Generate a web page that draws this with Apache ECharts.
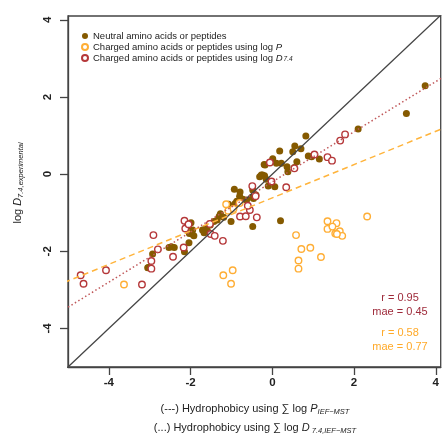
<!DOCTYPE html>
<html>
<head>
<meta charset="utf-8">
<script src="https://cdn.jsdelivr.net/npm/echarts@6/dist/echarts.min.js"></script>
<style>
  html, body { margin: 0; padding: 0; background: #fff; }
  #main { width: 442px; height: 434px; }
</style>
</head>
<body>
<div id="main"></div>
<script>
// 数据
var xTicks = [-4, -2, 0, 2, 4];
var yTicks = [-4, -2, 0, 2, 4];

var neutral = [
    [3.74, 2.29], [3.28, 1.57], [2.10, 1.17], [0.82, 0.99], [0.55, 0.73], [0.70, 0.66],
    [0.50, 0.58], [0.18, 0.60], [0.01, 0.40], [-0.20, 0.25], [0.10, 0.28], [0.22, 0.28],
    [0.36, 0.19], [0.60, 0.32], [0.88, 0.47], [0.96, 0.45], [1.15, 0.39], [0.38, 0.06],
    [-0.24, -0.02], [-0.31, -0.07], [-0.19, -0.04], [-0.10, -0.31], [0.06, -0.33], [-0.15, -0.13],
    [-0.93, -0.39], [-0.79, -0.46], [-0.48, -0.41], [-0.40, -0.54], [-0.46, -0.63], [-0.87, -0.70],
    [-0.72, -0.65], [-0.63, -0.67], [-0.99, -0.84], [-1.01, -1.23], [-0.48, -1.36], [0.20, -1.21],
    [-0.18, 0.24], [-0.27, -0.02], [0.54, 0.17], [-0.80, -0.57], [-0.50, -0.60], [-1.07, -0.78],
    [-0.91, -0.76], [-1.27, -1.03], [-1.35, -1.19], [-1.43, -1.23], [-1.63, -1.41], [-1.71, -1.45],
    [-1.59, -1.47], [-1.19, -1.12], [-1.30, -1.09], [-1.52, -1.32], [-1.67, -1.52], [-2.03, -1.54],
    [-1.97, -1.55], [-2.08, -1.35], [-1.99, -1.26], [-1.95, -1.45], [-1.92, -1.60], [-2.04, -1.78],
    [-2.47, -1.88], [-2.40, -1.90], [-2.53, -1.90], [-2.15, -2.01], [-2.93, -2.07], [-3.03, -2.42],
    [-3.05, -2.43]
];
var chargedLogP = [
    [2.32, -1.10], [1.35, -1.22], [1.57, -1.27], [1.35, -1.42], [1.47, -1.36], [1.65, -1.48],
    [1.54, -1.54], [1.71, -1.60], [1.58, -1.55], [0.58, -1.58], [0.71, -1.94], [0.93, -1.91],
    [1.19, -2.15], [0.64, -2.24], [0.64, -2.45], [-0.97, -2.49], [-1.01, -2.84], [-1.20, -2.62],
    [-3.63, -2.86], [-1.13, -0.78], [-1.08, -0.95], [-0.95, -0.90], [-0.80, -0.75]
];
var chargedLogD = [
    [-4.69, -2.62], [-4.62, -2.84], [-4.07, -2.49], [-3.19, -2.86], [-2.91, -1.58], [-2.80, -1.95],
    [-2.96, -2.25], [-2.96, -2.45], [-2.43, -2.14], [-2.15, -1.21], [-2.13, -1.41], [-2.05, -1.30],
    [-2.17, -1.90], [-1.53, -1.29], [-1.51, -1.55], [-1.41, -1.60], [-1.21, -1.73], [-0.49, -0.31],
    [-0.79, -1.10], [-0.65, -1.09], [-0.55, -0.93], [-0.60, -0.82], [-0.38, -1.12], [-0.06, 0.30],
    [-0.02, -0.19], [0.34, -0.34], [1.03, 0.51], [1.35, 0.44], [1.46, 0.35], [1.66, 0.87],
    [1.78, 1.03], [0.54, 0.15], [-0.41, -0.57]
];
// 回归线 [斜率, 截距]
var fitLogP = [0.431, -0.614];
var fitLogD = [0.65, -0.2];
var stats = [['r = 0.95', 'mae = 0.45'], ['r = 0.58', 'mae = 0.77']];

var fontFam = '"Liberation Sans", Arial, sans-serif';
var cBrown = '#855a00', cOrange = '#ffae35', cRed = '#b5383a';

function fitLine(f) {
    return [[-6, f[0] * -6 + f[1]], [6, f[0] * 6 + f[1]]];
}

var myChart = echarts.init(document.getElementById('main'), null, { renderer: 'canvas' });
var subRich = {
    i: { fontStyle: 'italic', fontSize: 9.5, fontFamily: fontFam, color: '#222' },
    s: { fontStyle: 'italic', fontSize: 6.5, fontFamily: fontFam, color: '#222', verticalAlign: 'bottom', padding: [4, 0, 0, 1] }
};
var option = {
    animation: false,
    grid: {
        left: 68, top: 16, right: -5, bottom: 67,
        show: true, borderColor: '#444', borderWidth: 1.3, backgroundColor: 'transparent'
    },
    legend: {
        orient: 'vertical',
        left: 76, top: 26,
        itemWidth: 6, itemHeight: 6, itemGap: 1,
        textStyle: { fontSize: 9.5, fontFamily: fontFam, color: '#222', lineHeight: 10, rich: subRich },
        data: ['Neutral amino acids or peptides', 'Charged amino acids or peptides using log P', 'Charged amino acids or peptides using log D'],
        formatter: function (name) {
            if (name.slice(-5) === 'log P') return name.slice(0, -1) + '{i|P}';
            if (name.slice(-5) === 'log D') return name.slice(0, -1) + '{i|D}{s|7.4}';
            return name;
        }
    },
    xAxis: {
        type: 'value', min: -5, max: 4.12,
        splitLine: { show: false },
        axisLine: { onZero: false, lineStyle: { color: '#444', width: 1.3 } },
        axisTick: { customValues: xTicks, length: 8, lineStyle: { color: '#444', width: 1.3 } },
        axisLabel: { customValues: xTicks, margin: 10, fontSize: 11.5, fontWeight: 'bold', color: '#222', fontFamily: fontFam }
    },
    yAxis: {
        type: 'value', min: -5, max: 4.1,
        splitLine: { show: false },
        axisLine: { onZero: false, lineStyle: { color: '#444', width: 1.3 } },
        axisTick: { customValues: yTicks, length: 8, lineStyle: { color: '#444', width: 1.3 } },
        axisLabel: { customValues: yTicks, rotate: 90, margin: 14, fontSize: 11.5, fontWeight: 'bold', color: '#222', fontFamily: fontFam }
    },
    series: [{
        name: 'Neutral amino acids or peptides',
        type: 'scatter', data: neutral, symbolSize: 7,
        itemStyle: { color: cBrown, opacity: 1 }
    }, {
        name: 'Charged amino acids or peptides using log P',
        type: 'scatter', data: chargedLogP, symbolSize: 6.5,
        itemStyle: { color: '#fff', borderColor: cOrange, borderWidth: 1.4, opacity: 1 }
    }, {
        name: 'Charged amino acids or peptides using log D',
        type: 'scatter', data: chargedLogD, symbolSize: 6.5,
        itemStyle: { color: '#fff', borderColor: cRed, borderWidth: 1.4, opacity: 1 }
    }, {
        type: 'line', data: [[-6, -6], [6, 6]], symbol: 'none', silent: true,
        lineStyle: { color: '#444', width: 1.3 }
    }, {
        type: 'line', data: fitLine(fitLogP), symbol: 'none', silent: true,
        lineStyle: { color: '#ffb43c', width: 1.5, type: [6, 4] }
    }, {
        type: 'line', data: fitLine(fitLogD), symbol: 'none', silent: true,
        lineStyle: { color: '#c0585a', width: 1.5, type: [1.5, 2.5] }
    }],
    graphic: [{
        type: 'text', x: 18, y: 183, rotation: Math.PI / 2,
        style: {
            text: 'log {i|D}{s|7.4,experimental}',
            textAlign: 'center', textVerticalAlign: 'middle',
            fontSize: 11, fontFamily: fontFam, fill: '#222',
            rich: {
                i: { fontStyle: 'italic', fontSize: 11, fontFamily: fontFam },
                s: { fontStyle: 'italic', fontSize: 7.5, fontFamily: fontFam, verticalAlign: 'bottom', padding: [5, 0, 0, 0] }
            }
        }
    }, {
        type: 'text', x: 255, y: 409,
        style: {
            text: '(---) Hydrophobicy using \u2211 log {i|P}{s|IEF\u2212MST}',
            textAlign: 'center', textVerticalAlign: 'middle',
            fontSize: 11, fontFamily: fontFam, fill: '#222',
            rich: {
                i: { fontStyle: 'italic', fontSize: 11, fontFamily: fontFam },
                s: { fontStyle: 'italic', fontSize: 7.5, fontFamily: fontFam, verticalAlign: 'bottom', padding: [5, 0, 0, 0] }
            }
        }
    }, {
        type: 'text', x: 255, y: 428,
        style: {
            text: '(...) Hydrophobicy using \u2211 log {i|D}{s| 7.4,IEF\u2212MST}',
            textAlign: 'center', textVerticalAlign: 'middle',
            fontSize: 11, fontFamily: fontFam, fill: '#222',
            rich: {
                i: { fontStyle: 'italic', fontSize: 11, fontFamily: fontFam },
                s: { fontStyle: 'italic', fontSize: 7.5, fontFamily: fontFam, verticalAlign: 'bottom', padding: [5, 0, 0, 0] }
            }
        }
    }, {
        type: 'text', x: 400, y: 298,
        style: { text: stats[0][0], textAlign: 'center', textVerticalAlign: 'middle', fontSize: 11, fontFamily: fontFam, fill: '#9e2a3a' }
    }, {
        type: 'text', x: 400, y: 312,
        style: { text: stats[0][1], textAlign: 'center', textVerticalAlign: 'middle', fontSize: 11, fontFamily: fontFam, fill: '#9e2a3a' }
    }, {
        type: 'text', x: 400, y: 333,
        style: { text: stats[1][0], textAlign: 'center', textVerticalAlign: 'middle', fontSize: 11, fontFamily: fontFam, fill: '#ffa928' }
    }, {
        type: 'text', x: 400, y: 347,
        style: { text: stats[1][1], textAlign: 'center', textVerticalAlign: 'middle', fontSize: 11, fontFamily: fontFam, fill: '#ffa928' }
    }]
};
myChart.setOption(option);
</script>
</body>
</html>
